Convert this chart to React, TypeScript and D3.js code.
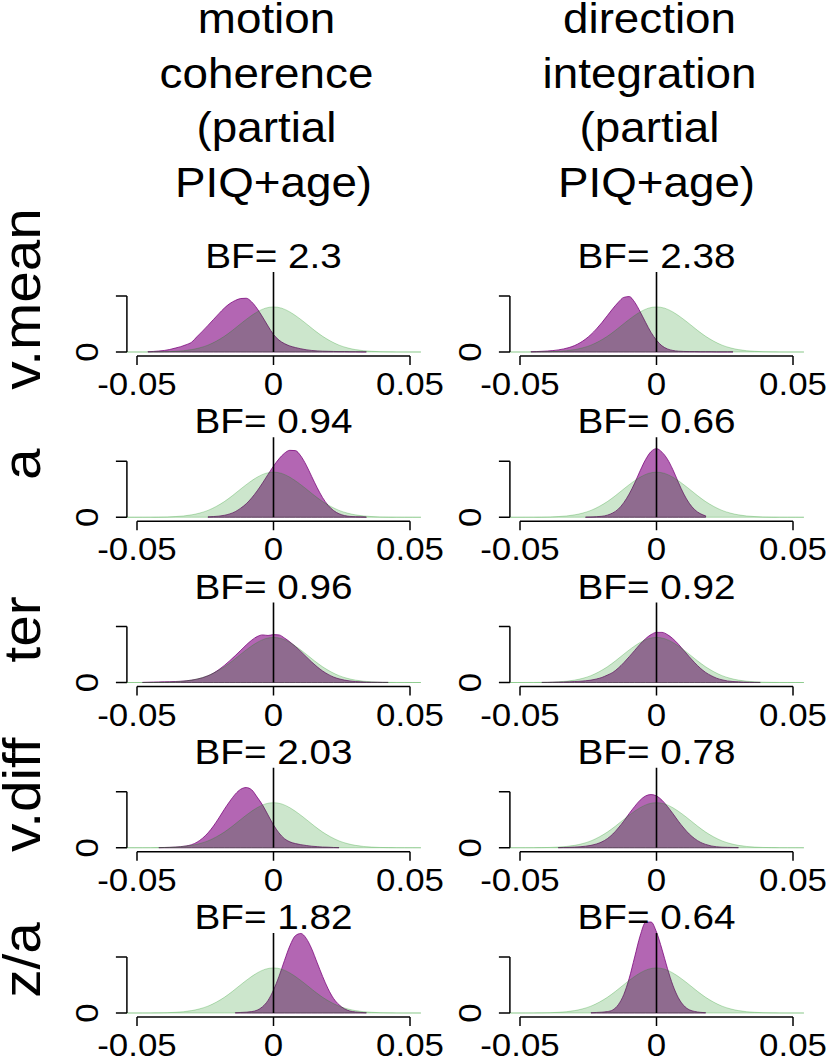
import React from 'react';
import * as d3 from 'd3';

const SX = 1.09;
const FONT = "'Liberation Sans', Arial, Helvetica, sans-serif";

const COLUMN_TITLES = [
  ['motion', 'coherence', '(partial', 'PIQ+age)'],
  ['direction', 'integration', '(partial', 'PIQ+age)'],
];
const ROW_LABELS = ['v.mean', 'a', 'ter', 'v.diff', 'z/a'];
const BF_MOTION = ['2.3', '0.94', '0.96', '2.03', '1.82'];
const BF_DIRECTION = ['2.38', '0.66', '0.92', '0.78', '0.64'];
const X_TICKS = [-0.05, 0, 0.05];
const X_TICK_LABELS = ['-0.05', '0', '0.05'];
const Y_TICKS = [0, 40];
const Y_TICK_LABELS = ['0', ''];
const X_LIMITS = [-0.0537, 0.0537];

// prior density (green), x from -0.054 step 0.003
const PRIOR_START = -0.054;
const PRIOR_STEP = 0.003;
const PRIOR = [0, 0.01, 0.02, 0.04, 0.1, 0.22, 0.48, 0.93, 1.7, 3.0, 4.9, 7.7, 11.2, 15.5, 20.2, 24.7, 28.6, 31.3, 32.2,
  31.3, 28.6, 24.7, 20.2, 15.5, 11.2, 7.7, 4.9, 3.0, 1.7, 0.93, 0.48, 0.22, 0.1, 0.04, 0.02, 0.01, 0];

// posterior densities (purple), step 0.002
const POST_STEP = 0.002;
const MOTION_STARTS = [-0.046, -0.024, -0.048, -0.042, -0.014];
const MOTION_VMEAN = [0.2, 0.4, 0.7, 1.1, 1.8, 2.8, 3.8, 5.2, 7.0, 11.0, 14.9, 19.0, 23.2, 27.4, 31.4, 34.6, 36.8, 38.2, 38.4,
  35.8, 31.0, 25.0, 18.5, 12.5, 8.5, 6.0, 4.3, 3.2, 2.3, 1.6, 1.1, 0.8, 0.6, 0.5, 0.4, 0.3, 0.3, 0.2, 0.2, 0.1, 0.1];
const MOTION_A = [0.3, 0.5, 0.8, 1.4, 2.4, 4.0, 6.5, 9.6, 13.8, 18.8, 24.5, 30.6, 36.5, 41.7, 45.7, 47.8, 47.6, 43.8, 37.2,
  29.1, 21.1, 14.0, 8.5, 4.8, 2.5, 1.2, 0.6, 0.4, 0.3, 0.2];
const MOTION_TER = [0.1, 0.2, 0.3, 0.4, 0.5, 0.6, 0.7, 0.9, 1.2, 1.7, 2.4, 3.4, 4.8, 6.7, 9.2, 12.2, 15.6, 19.2, 23.0, 26.8,
  30.2, 32.8, 34.0, 33.6, 34.2, 34.0, 31.8, 29.0, 25.8, 22.2, 18.4, 14.6, 11.2, 8.2, 5.8, 3.9, 2.6, 1.7, 1.1, 0.7, 0.5,
  0.3, 0.2, 0.2, 0.1, 0.1];
const MOTION_VDIFF = [0.1, 0.2, 0.3, 0.5, 0.8, 1.3, 2.2, 4.0, 6.8, 10.6, 15.5, 21.3, 27.5, 33.2, 38.3, 41.8, 43.0, 41.4,
  36.2, 30.5, 23.4, 16.3, 10.6, 6.5, 4.2, 3.0, 2.2, 1.6, 1.1, 0.8, 0.5, 0.4, 0.2, 0.1];
const MOTION_ZA = [0.2, 0.4, 0.6, 1.0, 2.0, 4.5, 9.0, 16.4, 26.1, 37.4, 48.0, 55.2, 56.8, 53.3, 45.8, 35.9, 26.1, 17.3,
  10.4, 5.9, 3.0, 1.4, 0.8, 0.4, 0.2];

const DIRECTION_STARTS = [-0.046, -0.026, -0.042, -0.036, -0.024];
const DIRECTION_VMEAN = [0.2, 0.3, 0.5, 0.7, 1.0, 1.5, 2.2, 3.2, 4.6, 6.6, 9.2, 12.5, 16.5, 21.0, 26.0, 31.0, 35.5, 39.0,
  39.6, 35.6, 28.8, 21.2, 14.0, 8.4, 4.4, 2.2, 1.1, 0.6, 0.4, 0.3, 0.3, 0.2, 0.2, 0.2, 0.1, 0.1, 0.1, 0.1];
const DIRECTION_A = [0.1, 0.2, 0.4, 0.7, 1.5, 3.1, 5.8, 10.4, 16.6, 24.4, 33.2, 41.2, 46.9, 49.0, 46.5, 41.5, 34.0, 25.0,
  16.6, 10.0, 5.4, 2.6, 1.0];
const DIRECTION_TER = [0.1, 0.1, 0.2, 0.3, 0.4, 0.5, 0.7, 0.9, 1.2, 1.7, 2.5, 3.6, 5.3, 7.2, 10.3, 14.1, 18.4, 22.9, 27.4,
  31.3, 34.2, 35.8, 35.8, 34.2, 31.3, 27.4, 22.9, 18.4, 14.1, 10.3, 7.2, 4.9, 3.1, 1.9, 1.1, 0.7, 0.5, 0.3, 0.2, 0.1, 0.1];
const DIRECTION_VDIFF = [0.1, 0.2, 0.3, 0.5, 0.7, 1.1, 1.7, 2.7, 4.2, 6.5, 9.8, 14.1, 19.0, 24.4, 29.5, 34.0, 37.0, 38.0,
  37.0, 34.0, 29.5, 24.4, 19.0, 14.1, 9.8, 6.5, 4.0, 2.4, 1.3, 0.7, 0.4, 0.3, 0.2, 0.1];
const DIRECTION_ZA = [0.2, 0.4, 0.6, 1.0, 2.2, 5.9, 13.1, 24.8, 40.0, 55.1, 64.7, 65.0, 57.8, 45.6, 31.9, 19.8, 10.9, 5.3,
  2.3, 1.1, 0.5, 0.2];

const MOTION_POST = [MOTION_VMEAN, MOTION_A, MOTION_TER, MOTION_VDIFF, MOTION_ZA];
const DIRECTION_POST = [DIRECTION_VMEAN, DIRECTION_A, DIRECTION_TER, DIRECTION_VDIFF, DIRECTION_ZA];

const COLUMNS = [
  { titles: COLUMN_TITLES[0], bf: BF_MOTION, post: MOTION_POST, starts: MOTION_STARTS },
  { titles: COLUMN_TITLES[1], bf: BF_DIRECTION, post: DIRECTION_POST, starts: DIRECTION_STARTS },
];

// layout
const W = 826;
const H = 1056;
const COL_X0 = [137, 520];
const COL_W = 273;
const ROW_B0 = 352;
const ROW_STEP = 165.25;
const Y_PX40 = 56;

const PURPLE_FILL = 'rgba(128,0,128,0.6)';
const PURPLE_STROKE = 'rgba(120,0,120,0.75)';
const GREEN_FILL = 'rgba(0,128,0,0.2)';
const GREEN_STROKE = 'rgba(0,140,0,0.25)';

function T({ x, y, size, rotate = false, anchor = 'middle', children }: any) {
  // the reference font is ~9% wider than Liberation Sans: stretch along the text direction
  const tf = rotate
    ? `translate(${x},${y}) scale(1,${SX}) rotate(-90)`
    : `translate(${x},${y}) scale(${SX},1)`;
  return (
    <text transform={tf} fontSize={size} textAnchor={anchor} fontFamily={FONT} fill="#000">
      {children}
    </text>
  );
}

function Panel({ ci, ri }: { ci: number; ri: number }) {
  const col = COLUMNS[ci];
  const x0 = COL_X0[ci];
  const b = ROW_B0 + ri * ROW_STEP;
  const x = d3.scaleLinear().domain([-0.05, 0.05]).range([x0, x0 + COL_W]);
  const y = d3.scaleLinear().domain([0, 40]).range([b, b - Y_PX40]);
  const left = x(X_LIMITS[0]);
  const right = x(X_LIMITS[1]);

  const prior = PRIOR.map((v, i) => [PRIOR_START + i * PRIOR_STEP, v] as [number, number]);
  const postVals = col.post[ri];
  const start = col.starts[ri];
  const post = postVals.map((v, i) => [start + i * POST_STEP, v] as [number, number]);
  const area = d3
    .area<[number, number]>()
    .x((d) => x(d[0]))
    .y0(y(0))
    .y1((d) => y(d[1]))
    .curve(d3.curveMonotoneX);

  const axisY = b + 4;
  return (
    <g>
      <path d={area(post) || ''} fill={PURPLE_FILL} stroke={PURPLE_STROKE} strokeWidth={1} />
      <path d={area(prior) || ''} fill={GREEN_FILL} stroke={GREEN_STROKE} strokeWidth={1} />
      <line x1={x(0)} x2={x(0)} y1={y(0)} y2={b - 80} stroke="#000" strokeWidth={1.6} />
      {/* x axis */}
      <line x1={x(X_TICKS[0])} x2={x(X_TICKS[X_TICKS.length - 1])} y1={axisY} y2={axisY} stroke="#000" strokeWidth={1.5} />
      {X_TICKS.map((t, i) => (
        <g key={i}>
          <line x1={x(t)} x2={x(t)} y1={axisY} y2={axisY + 9} stroke="#000" strokeWidth={1.5} />
          <T x={x(t)} y={b + 43} size={32}>{X_TICK_LABELS[i]}</T>
        </g>
      ))}
      {/* y axis */}
      <line x1={left} x2={left} y1={y(Y_TICKS[0])} y2={y(Y_TICKS[Y_TICKS.length - 1])} stroke="#000" strokeWidth={1.5} />
      {Y_TICKS.map((t, i) => (
        <g key={i}>
          <line x1={left} x2={left - 11} y1={y(t)} y2={y(t)} stroke="#000" strokeWidth={1.5} />
          {Y_TICK_LABELS[i] ? (
            <T x={left - 29} y={y(t)} size={32} rotate>{Y_TICK_LABELS[i]}</T>
          ) : null}
        </g>
      ))}
      <T x={(left + right) / 2} y={b - 84} size={35.5}>{`BF= ${col.bf[ri]}`}</T>
    </g>
  );
}

export default function App() {
  return (
    <svg
      width={W}
      height={H}
      viewBox={`0 0 ${W} ${H}`}
      style={{ position: 'absolute', left: 0, top: 0, background: '#fff' }}
    >
      <rect x={0} y={0} width={W} height={H} fill="#fff" />
      {COLUMNS.map((col, ci) => {
        const x = d3.scaleLinear().domain([-0.05, 0.05]).range([COL_X0[ci], COL_X0[ci] + COL_W]);
        const cx = (x(X_LIMITS[0]) + x(X_LIMITS[1])) / 2;
        return col.titles.map((line, li) => (
          <T key={`${ci}-${li}`} x={cx - (li < 3 ? 7 : 0)} y={33 + li * 54.7} size={42}>{line}</T>
        ));
      })}
      {ROW_LABELS.map((lab, ri) => (
        <T key={lab} x={40} y={ROW_B0 + ri * ROW_STEP - 53} size={52} rotate>{lab}</T>
      ))}
      {ROW_LABELS.map((_, ri) => [0, 1].map((ci) => <Panel key={`${ci}-${ri}`} ci={ci} ri={ri} />))}
    </svg>
  );
}
